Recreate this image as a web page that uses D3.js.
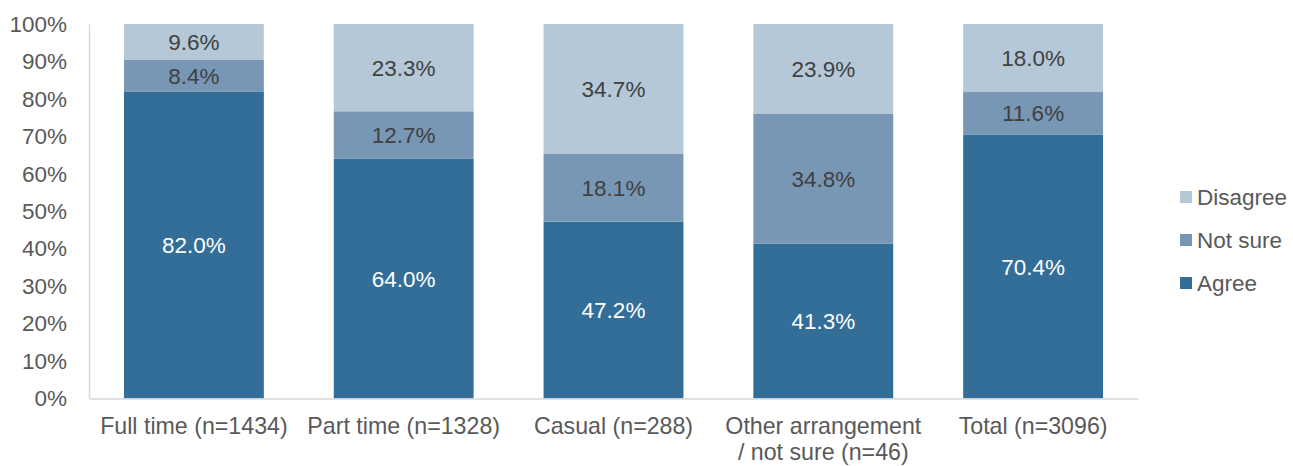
<!DOCTYPE html>
<html>
<head>
<meta charset="utf-8">
<script src="https://cdn.jsdelivr.net/npm/d3@7"></script>
<style>
  body { margin: 0; background: #fff; }
  text { font-family: "Liberation Sans", Arial, sans-serif; }
</style>
</head>
<body>
<div id="chart"></div>
<script>
// categories and series (percent)
const categories = ["Full time (n=1434)", "Part time (n=1328)", "Casual (n=288)", "Other arrangement\n/ not sure (n=46)", "Total (n=3096)"];
const agree = [82.0, 64.0, 47.2, 41.3, 70.4];
const notSure = [8.4, 12.7, 18.1, 34.8, 11.6];
const disagree = [9.6, 23.3, 34.7, 23.9, 18.0];
const seriesNames = ["Agree", "Not sure", "Disagree"];
const yTicks = [0, 10, 20, 30, 40, 50, 60, 70, 80, 90, 100];

const colors = { "Agree": "#336e99", "Not sure": "#7897b5", "Disagree": "#b4c8d8" };
const labelColors = { "Agree": "#ffffff", "Not sure": "#404040", "Disagree": "#404040" };

const width = 1293, height = 466;
const margin = { left: 89, right: 155, top: 24, bottom: 67.5 };
const fontSize = 22.5;

const svg = d3.select("#chart").append("svg")
    .attr("width", width)
    .attr("height", height);

const rows = categories.map((c, i) => ({ cat: c, "Agree": agree[i], "Not sure": notSure[i], "Disagree": disagree[i] }));
const stacked = d3.stack().keys(seriesNames)(rows);

const x = d3.scaleBand()
    .domain(categories)
    .range([margin.left, width - margin.right])
    .paddingInner(1 / 3)
    .paddingOuter(1 / 6);

const y = d3.scaleLinear()
    .domain([0, 100])
    .range([height - margin.bottom, margin.top]);

// bars
stacked.forEach(s => {
    const g = svg.append("g");
    g.selectAll("rect")
        .data(s)
        .join("rect")
        .attr("x", d => x(d.data.cat))
        .attr("width", x.bandwidth())
        .attr("y", d => y(d[1]))
        .attr("height", d => y(d[0]) - y(d[1]))
        .attr("fill", colors[s.key]);

    g.selectAll("text")
        .data(s)
        .join("text")
        .attr("x", d => x(d.data.cat) + x.bandwidth() / 2)
        .attr("y", d => (y(d[0]) + y(d[1])) / 2)
        .attr("dy", "0.35em")
        .attr("text-anchor", "middle")
        .attr("font-size", fontSize)
        .attr("fill", labelColors[s.key])
        .text(d => (d[1] - d[0]).toFixed(1) + "%");
});

// y axis
const yAxis = svg.append("g")
    .attr("transform", `translate(${margin.left},0)`)
    .call(d3.axisLeft(y).tickValues(yTicks).tickFormat(d => d + "%").tickSize(0).tickPadding(22));
yAxis.select(".domain").attr("stroke", "#d9d9d9").attr("stroke-width", 1.5);
yAxis.selectAll("text").attr("font-size", fontSize).attr("fill", "#595959")
    .style("font-family", '"Liberation Sans", Arial, sans-serif');

// x axis
const xAxis = svg.append("g")
    .attr("transform", `translate(0,${y(0)})`)
    .call(d3.axisBottom(x).tickSize(0).tickFormat(""));
xAxis.select(".domain").attr("stroke", "#d9d9d9").attr("stroke-width", 1.5);

svg.append("g").selectAll("text")
    .data(categories)
    .join("text")
    .attr("x", d => x(d) + x.bandwidth() / 2)
    .attr("y", y(0) + 35.5)
    .attr("text-anchor", "middle")
    .attr("font-size", 23.2)
    .attr("fill", "#595959")
    .each(function(d) {
        d.split("\n").forEach((line, i) => {
            d3.select(this).append("tspan")
                .attr("x", x(d) + x.bandwidth() / 2)
                .attr("dy", i === 0 ? 0 : 25.5)
                .text(line);
        });
    });

// legend
const legend = svg.append("g").attr("transform", "translate(1180,197)");
const legendOrder = ["Disagree", "Not sure", "Agree"];
legendOrder.forEach((k, i) => {
    const row = legend.append("g").attr("transform", `translate(0,${i * 43})`);
    row.append("rect")
        .attr("x", 0).attr("y", -6)
        .attr("width", 12).attr("height", 12)
        .attr("fill", colors[k]);
    row.append("text")
        .attr("x", 17).attr("dy", "0.35em")
        .attr("font-size", fontSize)
        .attr("fill", "#595959")
        .text(k);
});
</script>
</body>
</html>
